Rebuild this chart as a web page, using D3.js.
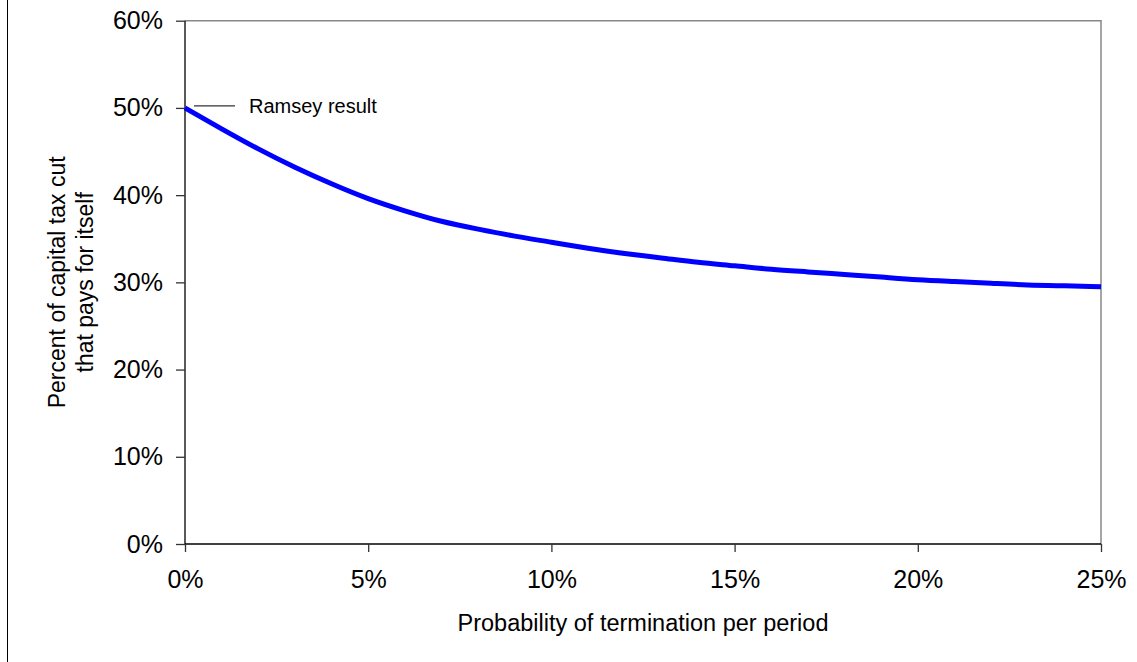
<!DOCTYPE html>
<html>
<head>
<meta charset="utf-8">
<script src="https://cdn.jsdelivr.net/npm/d3@7"></script>
<style>
  body { margin: 0; background: #fff; }
  text { font-family: "Liberation Sans", Arial, sans-serif; fill: #000; }
</style>
</head>
<body>
<div id="chart"></div>
<script>
// termination probability (%) and share of tax cut that pays for itself (%)
const termination = [0, 1, 2, 3, 4, 5, 6, 7, 8, 9, 10, 11, 12, 13, 14, 15, 16, 17, 18, 19, 20, 21, 22, 23, 24, 25];
const selfFinancing = [50.0, 47.6, 45.3, 43.2, 41.3, 39.6, 38.2, 37.0, 36.1, 35.3, 34.6, 33.9, 33.3, 32.8, 32.3, 31.9, 31.5, 31.2, 30.9, 30.6, 30.3, 30.1, 29.9, 29.7, 29.6, 29.5];
const xTicks = [0, 5, 10, 15, 20, 25];
const yTicks = [0, 10, 20, 30, 40, 50, 60];
const ramseyValue = 50;

const width = 1137;
const height = 662;
const plot = { left: 185, top: 20.7, right: 1101, bottom: 544 };

const svg = d3.select('#chart')
            .append('svg')
            .attr('width', width)
            .attr('height', height);

const xScale = d3.scaleLinear()
            .domain([0, 25])
            .range([plot.left, plot.right]);

const yScale = d3.scaleLinear()
            .domain([0, 60])
            .range([plot.bottom, plot.top]);

// frame line at the far left of the picture
svg.append('line')
    .attr('x1', 7.5).attr('x2', 7.5)
    .attr('y1', 0).attr('y2', height)
    .attr('stroke', '#000')
    .attr('stroke-width', 1);

// top and right border of the plot
svg.append('path')
    .attr('d', 'M' + plot.left + ',' + plot.top + 'H' + plot.right + 'V' + plot.bottom)
    .attr('fill', 'none')
    .attr('stroke', '#888')
    .attr('stroke-width', 1.5);

const yAxis = d3.axisLeft(yScale)
                .tickValues(yTicks)
                .tickSize(9)
                .tickPadding(13)
                .tickFormat(d => d + '%');

const xAxis = d3.axisBottom(xScale)
                .tickValues(xTicks)
                .tickSize(8)
                .tickPadding(18)
                .tickFormat(d => d + '%');

const gy = svg.append('g')
    .attr('transform', 'translate(' + plot.left + ',0)')
    .call(yAxis);

const gx = svg.append('g')
    .attr('transform', 'translate(0,' + plot.bottom + ')')
    .call(xAxis);

[gx, gy].forEach(g => {
    g.select('.domain').attr('stroke', '#000').attr('stroke-width', 1.3);
    g.selectAll('.tick line').attr('stroke', '#333').attr('stroke-width', 1.3);
    g.selectAll('.tick text')
        .attr('fill', '#000')
        .style('font-family', '"Liberation Sans", Arial, sans-serif')
        .style('font-size', '25px');
});
gy.select('.domain').attr('d', 'M0,' + plot.top + 'V' + plot.bottom);
gx.select('.domain').attr('d', 'M' + plot.left + ',0H' + plot.right);

// curve
const line = d3.line()
    .x((d, i) => xScale(termination[i]))
    .y(d => yScale(d))
    .curve(d3.curveNatural);

svg.append('path')
    .datum(selfFinancing)
    .attr('d', line)
    .attr('fill', 'none')
    .attr('stroke', '#0000ff')
    .attr('stroke-width', 5)
    .attr('stroke-linejoin', 'round');

// Ramsey annotation
const ry = yScale(ramseyValue) - 2;
svg.append('line')
    .attr('x1', xScale(0) + 9).attr('x2', xScale(0) + 50)
    .attr('y1', ry).attr('y2', ry)
    .attr('stroke', '#333')
    .attr('stroke-width', 1.2);

svg.append('text')
    .attr('x', xScale(0) + 64)
    .attr('y', ry + 7)
    .style('font-size', '20px')
    .text('Ramsey result');

// axis titles
svg.append('text')
    .attr('x', (plot.left + plot.right) / 2)
    .attr('y', 631)
    .attr('text-anchor', 'middle')
    .style('font-size', '23.5px')
    .text('Probability of termination per period');

const yTitle = svg.append('text')
    .attr('transform', 'translate(65,' + (plot.top + plot.bottom) / 2 + ') rotate(-90)')
    .attr('text-anchor', 'middle')
    .style('font-size', '23px');
yTitle.append('tspan').attr('x', 0).attr('y', 0).text('Percent of capital tax cut');
yTitle.append('tspan').attr('x', 0).attr('y', 28).text('that pays for itself');
</script>
</body>
</html>
